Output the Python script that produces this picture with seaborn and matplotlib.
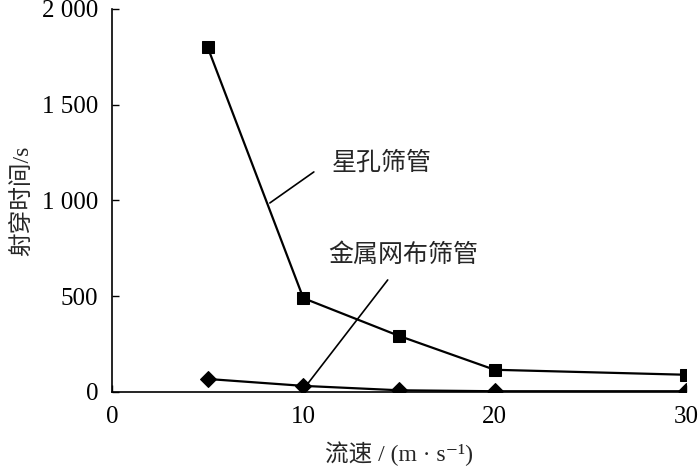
import pandas as pd
import matplotlib.pyplot as plt
import seaborn as sns
from matplotlib.ticker import FuncFormatter

# data
flow_speed = [5, 10, 15, 20, 30]
star_hole = [1800, 490, 293, 116, 90]        # 星孔筛管
metal_mesh = [68, 32, 9, 4, 4]               # 金属网布筛管

sns.set_style("ticks")
plt.rcParams['font.family'] = ['Liberation Serif', 'Noto Sans CJK SC', 'DejaVu Sans']

df = pd.DataFrame({
    'speed': flow_speed * 2,
    'time': star_hole + metal_mesh,
    'screen': ['星孔筛管'] * 5 + ['金属网布筛管'] * 5,
})

fig = plt.figure(figsize=(7, 4.68), dpi=100)
ax = fig.add_axes([0.16, 0.1624, 0.82, 0.8185])

sns.lineplot(data=df, x='speed', y='time', style='screen', hue='screen',
             markers={'星孔筛管': 's', '金属网布筛管': 'D'}, dashes=False,
             palette={'星孔筛管': 'black', '金属网布筛管': 'black'},
             markersize=8, linewidth=1.6, markeredgecolor='black',
             legend=False, ax=ax)

ax.set_xlim(0, 30)
ax.set_ylim(0, 2000)
ax.set_xticks([0, 10, 20, 30])
ax.set_yticks([0, 500, 1000, 1500, 2000])
ax.yaxis.set_major_formatter(FuncFormatter(lambda v, p: f"{int(v):,}".replace(',', ' ')))
ax.tick_params(direction='in', length=5, width=1, labelsize=18, colors='black')
ax.tick_params(axis='y', pad=10)
ax.tick_params(axis='x', pad=10)
for s in ['top', 'right']:
    ax.spines[s].set_visible(False)
for s in ['left', 'bottom']:
    ax.spines[s].set_linewidth(1.2)
    ax.spines[s].set_color('black')

ax.set_xlabel('流速 / (m · s⁻¹)', fontsize=17, labelpad=10)
ax.set_ylabel('射穿时间/s', fontsize=17, labelpad=6)

# curve labels with leader lines
ax.text(11.5, 1196, '星孔筛管', fontsize=18, va='center', ha='left')
ax.plot([10.55, 8.25], [1149, 987], color='black', linewidth=1.2)
ax.text(11.3, 715, '金属网布筛管', fontsize=18, va='center', ha='left')
ax.plot([14.41, 10.18], [585, 37], color='black', linewidth=1.2)

fig.savefig('out.png', dpi=100)
